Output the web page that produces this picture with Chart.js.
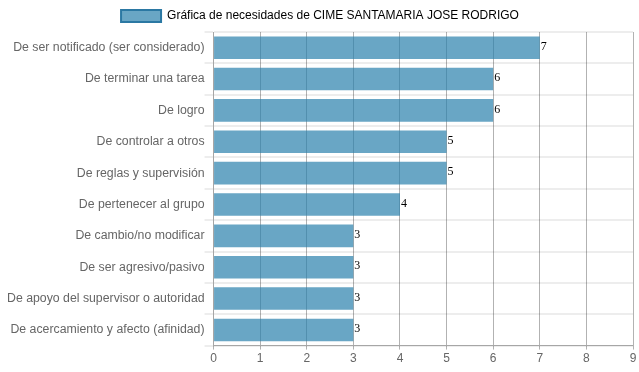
<!DOCTYPE html>
<html>
<head>
<meta charset="utf-8">
<script src="https://cdn.jsdelivr.net/npm/chart.js@4/dist/chart.umd.min.js"></script>
<style>
  html, body { margin: 0; padding: 0; background: #fff; }
  #wrap { width: 639px; height: 372px; }
</style>
</head>
<body>
<div id="wrap"><canvas id="needsChart"></canvas></div>
<script>
// Needs chart data
const seriesLabel = 'Gráfica de necesidades de CIME SANTAMARIA JOSE RODRIGO';
const categories = [
    'De ser notificado (ser considerado)',
    'De terminar una tarea',
    'De logro',
    'De controlar a otros',
    'De reglas y supervisión',
    'De pertenecer al grupo',
    'De cambio/no modificar',
    'De ser agresivo/pasivo',
    'De apoyo del supervisor o autoridad',
    'De acercamiento y afecto (afinidad)'
];
const values = [7, 6, 6, 5, 5, 4, 3, 3, 3, 3];
const xTicks = [0, 1, 2, 3, 4, 5, 6, 7, 8, 9];

Chart.defaults.font.family = 'Arial, "Liberation Sans", Helvetica, sans-serif';
Chart.defaults.font.size = 12;
Chart.defaults.color = '#666';

// Draw the value next to the end of each bar
const valueLabels = {
    id: 'valueLabels',
    afterDatasetsDraw(chart) {
        const ctx = chart.ctx;
        const meta = chart.getDatasetMeta(0);
        ctx.save();
        ctx.font = '12px "Liberation Serif", "Times New Roman", serif';
        ctx.fillStyle = '#000';
        ctx.textAlign = 'left';
        ctx.textBaseline = 'middle';
        meta.data.forEach((bar, i) => {
            ctx.fillText(String(values[i]), bar.x + 1, bar.y - 1);
        });
        ctx.restore();
    }
};

new Chart(document.getElementById('needsChart'), {
    type: 'bar',
    data: {
        labels: categories,
        datasets: [{
            label: seriesLabel,
            data: values,
            backgroundColor: 'rgba(42, 128, 172, 0.7)',
            borderColor: '#2b78a3',
            borderWidth: 0
        }]
    },
    options: {
        indexAxis: 'y',
        responsive: true,
        maintainAspectRatio: false,
        animation: false,
        layout: { padding: { left: 7, right: 6, top: 0, bottom: 4 } },
        plugins: {
            legend: {
                position: 'top',
                labels: {
                    boxWidth: 40,
                    boxHeight: 12,
                    color: '#666',
                    generateLabels(chart) {
                        return [{
                            text: seriesLabel,
                            fillStyle: 'rgba(42, 128, 172, 0.7)',
                            strokeStyle: '#2b78a3',
                            lineWidth: 2,
                            datasetIndex: 0,
                            hidden: false
                        }];
                    }
                }
            },
            tooltip: { enabled: false }
        },
        scales: {
            x: {
                min: 0,
                max: 9,
                afterBuildTicks(axis) {
                    axis.ticks = xTicks.map(v => ({ value: v }));
                },
                ticks: { color: '#666', padding: 2 },
                grid: { color: 'rgba(0, 0, 0, 0.3)', lineWidth: 1, drawTicks: true, tickLength: 4 },
                border: { color: 'rgba(0, 0, 0, 0.3)' }
            },
            y: {
                ticks: { color: '#666', padding: 0, font: { size: 12.3 } },
                grid: { color: 'rgba(0, 0, 0, 0.07)', lineWidth: 2, offset: true, tickLength: 9 },
                border: { color: 'rgba(0, 0, 0, 0.07)' }
            }
        }
    },
    plugins: [valueLabels]
});
</script>
</body>
</html>
